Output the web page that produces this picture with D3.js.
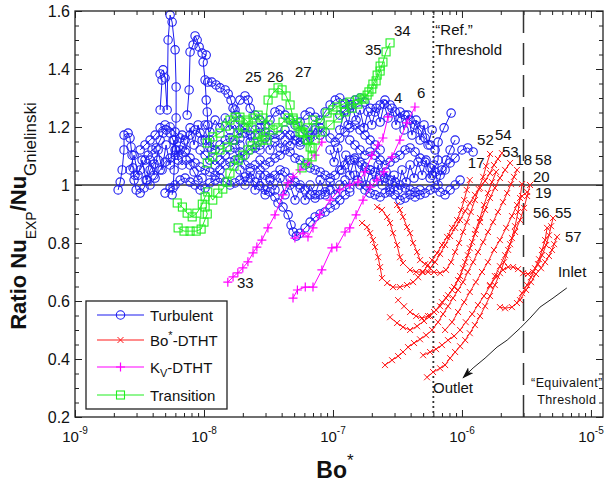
<!DOCTYPE html>
<html>
<head>
<meta charset="utf-8">
<script src="https://cdn.jsdelivr.net/npm/d3@7"></script>
<style>
  body { margin: 0; background: #fff; }
  text { font-family: Arial, "Liberation Sans", sans-serif; fill: #111; }
</style>
</head>
<body>
<svg id="chart" width="605" height="483"></svg>
<script>
// ---- data: [Bo*, Nu_EXP/Nu_Gnielinski] ----
const turbulentRuns = [
  [[2.16e-9,0.983],[2.24e-9,1.01],[2.32e-9,1.052],[2.4e-9,1.121],[2.4e-9,1.172],[2.58e-9,1.179],[2.67e-9,1.162],[2.72e-9,1.131],[2.77e-9,1.103],[2.82e-9,1.059],[2.87e-9,1.017],[2.98e-9,0.983],[3.2e-9,0.972],[3.43e-9,0.99],[3.62e-9,1.017],[3.82e-9,1.052],[4.1e-9,1.072],[4.41e-9,1.086]],
  [[2.92e-9,1.034],[3.2e-9,1.052],[3.49e-9,1.086],[3.69e-9,1.103],[3.96e-9,1.121],[4.25e-9,1.128],[4.57e-9,1.155],[4.82e-9,1.179],[5.08e-9,1.19],[5.46e-9,1.179],[5.76e-9,1.155],[6.08e-9,1.121],[6.3e-9,1.086],[6.77e-9,1.069],[7.27e-9,1.086],[7.8e-9,1.069],[8.38e-9,1.045],[9.0e-9,1.017],[9.67e-9,1.024]],
  [[4.57e-9,1.259],[4.73e-9,1.362],[4.57e-9,1.383],[4.82e-9,1.397],[4.99e-9,1.369],[5.18e-9,1.259],[5.27e-9,1.5],[5.46e-9,1.586],[5.66e-9,1.562],[5.97e-9,1.466],[6.08e-9,1.338],[6.08e-9,1.231],[5.97e-9,1.121],[5.87e-9,1.052],[5.76e-9,0.99],[5.66e-9,0.966]],
  [[7.4e-9,1.241],[7.67e-9,1.328],[7.8e-9,1.459],[8.24e-9,1.483],[8.53e-9,1.514],[8.85e-9,1.5],[9.17e-9,1.476],[9.67e-9,1.455],[1.04e-8,1.448],[9.85e-9,1.424],[1.02e-8,1.362],[1.04e-8,1.293],[1.06e-8,1.252],[1.07e-8,1.207],[1.11e-8,1.155],[1.15e-8,1.121]],
  [[1.07e-8,1.355],[1.15e-8,1.355],[1.24e-8,1.345],[1.33e-8,1.335],[1.46e-8,1.328],[1.54e-8,1.314],[1.62e-8,1.293],[1.68e-8,1.265],[1.77e-8,1.241],[1.9e-8,1.224]],
  [[3.2e-9,1.121],[3.49e-9,1.138],[3.82e-9,1.155],[4.18e-9,1.172],[4.57e-9,1.197],[4.99e-9,1.207],[5.46e-9,1.2],[5.97e-9,1.183],[6.53e-9,1.162],[7.14e-9,1.155],[7.8e-9,1.172],[8.53e-9,1.19],[9.33e-9,1.179],[1.02e-8,1.155],[1.11e-8,1.131],[1.22e-8,1.121],[1.33e-8,1.138],[1.46e-8,1.155],[1.59e-8,1.162],[1.74e-8,1.155],[1.9e-8,1.138]],
  [[3.82e-9,1.0],[4.18e-9,1.024],[4.57e-9,1.052],[4.99e-9,1.079],[5.46e-9,1.093],[5.97e-9,1.103],[6.53e-9,1.121],[7.14e-9,1.114],[7.8e-9,1.093],[8.53e-9,1.076],[9.33e-9,1.062],[1.02e-8,1.052],[1.11e-8,1.045],[1.22e-8,1.034],[1.33e-8,1.052],[1.46e-8,1.069],[1.59e-8,1.079],[1.74e-8,1.086],[1.9e-8,1.093],[2.08e-8,1.103],[2.28e-8,1.121],[2.49e-8,1.128],[2.72e-8,1.121]],
  [[4.99e-9,0.972],[5.46e-9,0.99],[5.97e-9,1.0],[6.53e-9,1.017],[7.14e-9,1.024],[7.8e-9,1.01],[8.53e-9,1.0],[9.33e-9,0.983],[1.02e-8,0.99],[1.11e-8,1.007],[1.22e-8,1.017],[1.33e-8,1.024],[1.46e-8,1.01],[1.59e-8,1.0],[1.74e-8,1.007],[1.9e-8,1.017],[2.08e-8,1.028],[2.28e-8,1.024],[2.49e-8,1.01],[2.72e-8,0.997],[2.98e-8,0.983],[3.25e-8,0.976],[3.55e-8,0.959],[3.75e-8,0.938],[4.1e-8,0.924],[4.49e-8,0.897],[4.73e-8,0.862],[4.91e-8,0.838],[5.2e-8,0.824],[5.56e-8,0.834],[6.08e-8,0.852],[6.65e-8,0.872],[7.27e-8,0.89],[7.95e-8,0.9],[8.69e-8,0.907],[9.5e-8,0.921],[1.04e-7,0.931],[1.13e-7,0.948],[1.24e-7,0.966],[1.35e-7,0.976]],
  [[1.74e-8,1.259],[1.9e-8,1.293],[2.08e-8,1.307],[2.2e-8,1.293],[2.28e-8,1.265],[2.49e-8,1.241],[2.72e-8,1.224],[2.98e-8,1.207],[3.25e-8,1.224],[3.55e-8,1.252],[3.89e-8,1.259],[4.25e-8,1.241],[4.65e-8,1.224],[5.08e-8,1.207],[5.56e-8,1.217],[6.08e-8,1.241],[6.65e-8,1.252],[7.27e-8,1.234],[7.95e-8,1.224],[8.69e-8,1.252],[9.5e-8,1.276],[1.04e-7,1.293],[1.13e-7,1.3],[1.24e-7,1.283],[1.35e-7,1.265]],
  [[1.9e-8,1.19],[2.08e-8,1.179],[2.28e-8,1.172],[2.49e-8,1.19],[2.72e-8,1.197],[2.98e-8,1.183],[3.25e-8,1.172],[3.55e-8,1.162],[3.89e-8,1.172],[4.25e-8,1.19],[4.65e-8,1.172],[5.08e-8,1.155],[5.56e-8,1.138],[6.08e-8,1.155],[6.65e-8,1.172],[7.27e-8,1.19],[7.95e-8,1.197],[8.69e-8,1.183],[9.5e-8,1.162],[1.04e-7,1.148],[1.13e-7,1.162],[1.24e-7,1.183],[1.35e-7,1.197],[1.48e-7,1.207],[1.62e-7,1.19],[1.77e-7,1.172],[1.94e-7,1.155],[2.12e-7,1.138],[2.32e-7,1.121]],
  [[2.72e-8,1.086],[2.98e-8,1.069],[3.25e-8,1.079],[3.55e-8,1.093],[3.89e-8,1.103],[4.25e-8,1.121],[4.65e-8,1.114],[5.08e-8,1.093],[5.56e-8,1.086],[6.08e-8,1.069],[6.65e-8,1.059],[7.27e-8,1.052],[7.95e-8,1.045],[8.69e-8,1.034],[9.5e-8,1.024],[1.04e-7,1.034],[1.13e-7,1.052],[1.24e-7,1.069],[1.35e-7,1.086],[1.48e-7,1.093],[1.62e-7,1.079],[1.77e-7,1.062],[1.94e-7,1.052],[2.12e-7,1.045],[2.32e-7,1.034],[2.53e-7,1.024],[2.77e-7,1.017],[3.03e-7,1.01],[3.31e-7,1.0],[3.62e-7,0.99],[3.96e-7,0.983],[4.33e-7,0.976],[4.73e-7,0.983]],
  [[1.13e-7,1.241],[1.24e-7,1.259],[1.35e-7,1.276],[1.48e-7,1.293],[1.62e-7,1.3],[1.77e-7,1.286],[1.94e-7,1.265],[2.12e-7,1.252],[2.32e-7,1.276],[2.53e-7,1.293],[2.77e-7,1.276],[3.03e-7,1.252],[3.31e-7,1.231],[3.62e-7,1.241],[3.96e-7,1.224],[4.33e-7,1.207],[4.73e-7,1.19],[5.18e-7,1.162],[5.66e-7,1.138],[6.19e-7,1.121]],
  [[1.35e-7,1.155],[1.48e-7,1.138],[1.62e-7,1.121],[1.77e-7,1.103],[1.94e-7,1.114],[2.12e-7,1.103],[2.32e-7,1.086],[2.53e-7,1.069],[2.77e-7,1.079],[3.03e-7,1.093],[3.31e-7,1.103],[3.62e-7,1.121],[3.96e-7,1.128],[4.33e-7,1.114],[4.73e-7,1.093],[5.18e-7,1.079],[5.66e-7,1.059],[6.19e-7,1.045],[6.77e-7,1.034],[7.4e-7,1.052],[8.09e-7,1.076],[8.85e-7,1.093],[1.0e-6,1.121],[1.11e-6,1.128],[1.22e-6,1.114]],
  [[5.87e-7,1.034],[6.53e-7,1.086],[6.53e-7,1.148],[7.27e-7,1.197],[8.24e-7,1.248]],
  [[1.62e-7,1.0],[1.77e-7,0.983],[1.94e-7,0.972],[2.12e-7,0.966],[2.32e-7,0.959],[2.53e-7,0.972],[2.77e-7,0.983],[3.03e-7,0.966],[3.31e-7,0.948],[3.62e-7,0.955],[3.96e-7,0.966],[4.33e-7,0.959],[4.73e-7,0.966],[5.18e-7,0.972],[5.66e-7,0.983],[6.19e-7,0.99],[6.77e-7,0.976],[7.4e-7,0.966],[8.09e-7,0.983],[8.85e-7,1.0],[9.67e-7,1.017]],
  [[9.33e-9,1.121],[1.02e-8,1.103],[1.11e-8,1.086],[1.22e-8,1.069],[1.33e-8,1.086],[1.46e-8,1.103],[1.59e-8,1.121],[1.74e-8,1.128],[1.9e-8,1.114],[2.08e-8,1.069],[2.28e-8,1.059],[2.49e-8,1.069],[2.72e-8,1.052],[2.98e-8,1.034],[3.25e-8,1.024],[3.55e-8,1.034],[3.89e-8,1.052],[4.25e-8,1.045],[4.65e-8,1.024],[5.08e-8,1.01],[5.56e-8,1.0],[6.08e-8,0.983],[6.65e-8,0.966],[7.27e-8,0.955],[7.95e-8,0.966],[8.69e-8,0.976],[9.5e-8,0.983]],
  [[1.02e-8,1.207],[1.11e-8,1.183],[1.22e-8,1.224],[1.33e-8,1.197],[1.46e-8,1.231],[1.59e-8,1.19],[1.74e-8,1.207],[1.9e-8,1.162],[2.08e-8,1.197],[2.28e-8,1.148],[2.49e-8,1.172],[2.72e-8,1.138],[2.98e-8,1.162],[3.25e-8,1.121],[3.55e-8,1.148],[3.89e-8,1.128],[4.25e-8,1.155],[4.65e-8,1.135],[5.08e-8,1.169],[5.56e-8,1.148],[6.08e-8,1.19],[6.65e-8,1.162],[7.27e-8,1.197],[7.95e-8,1.172]],
  [[9.5e-8,1.121],[1.02e-7,1.079],[1.09e-7,1.128],[1.17e-7,1.052],[1.26e-7,1.103],[1.35e-7,1.034],[1.46e-7,1.086],[1.56e-7,1.017],[1.68e-7,1.069],[1.8e-7,1.0],[1.94e-7,1.052],[2.08e-7,1.01],[2.24e-7,1.069],[2.4e-7,1.0],[2.58e-7,1.045],[2.77e-7,0.976],[2.98e-7,1.034],[3.2e-7,0.983],[3.43e-7,1.052],[3.69e-7,1.01],[3.96e-7,1.069],[4.25e-7,1.024],[4.57e-7,1.079],[4.91e-7,1.034],[5.27e-7,1.086],[5.66e-7,1.024],[6.08e-7,1.069],[6.53e-7,1.0],[7.0e-7,1.052],[7.53e-7,1.086],[8.09e-7,1.121],[8.85e-7,1.155]],
  [[1.13e-7,1.19],[1.22e-7,1.252],[1.31e-7,1.207],[1.4e-7,1.276],[1.51e-7,1.224],[1.62e-7,1.259],[1.74e-7,1.197],[1.87e-7,1.252],[2.0e-7,1.207],[2.16e-7,1.265],[2.32e-7,1.217],[2.49e-7,1.279],[2.67e-7,1.231],[2.87e-7,1.265],[3.08e-7,1.207],[3.31e-7,1.252],[3.56e-7,1.19],[3.82e-7,1.241],[4.1e-7,1.172],[4.41e-7,1.224],[4.73e-7,1.155],[5.08e-7,1.207],[5.46e-7,1.138],[5.87e-7,1.19]],
  [[1.9e-8,1.052],[2.08e-8,1.0],[2.28e-8,1.045],[2.49e-8,0.983],[2.72e-8,1.034],[2.98e-8,0.966],[3.25e-8,1.017],[3.55e-8,0.983],[3.89e-8,1.024],[4.25e-8,0.966],[4.65e-8,1.0],[5.08e-8,0.948],[5.56e-8,0.99],[6.08e-8,0.948],[6.65e-8,1.0],[7.27e-8,0.966],[7.95e-8,1.017],[8.69e-8,0.966],[9.5e-8,1.01],[1.04e-7,0.966],[1.13e-7,1.0],[1.24e-7,1.017],[1.35e-7,0.99],[1.48e-7,1.034]],
  [[2.67e-9,1.052],[2.87e-9,1.103],[3.08e-9,1.034],[3.31e-9,1.086],[3.56e-9,1.017],[3.82e-9,1.086],[4.1e-9,1.034],[4.41e-9,1.121],[4.73e-9,1.052],[5.08e-9,1.138],[5.46e-9,1.069],[5.87e-9,1.155],[6.3e-9,1.103],[6.77e-9,1.172],[7.27e-9,1.121],[7.8e-9,1.197],[8.38e-9,1.138],[9.0e-9,1.207],[9.67e-9,1.155]]
];

const bodthtRuns = [
  [[1.68e-7,0.869],[1.84e-7,0.855],[1.94e-7,0.834],[2.04e-7,0.81],[2.12e-7,0.786],[2.24e-7,0.751],[2.32e-7,0.717],[2.4e-7,0.679],[2.63e-7,0.662],[2.92e-7,0.648],[3.31e-7,0.648],[3.75e-7,0.655],[4.18e-7,0.665],[4.57e-7,0.682],[5.0e-7,0.7],[5.46e-7,0.724],[5.87e-7,0.741],[6.41e-7,0.765],[7.0e-7,0.793],[7.67e-7,0.821],[8.38e-7,0.852],[9.17e-7,0.879],[9.85e-7,0.914],[1.04e-6,0.948],[1.09e-6,0.983],[1.15e-6,1.017]],
  [[2.2e-7,0.924],[2.4e-7,0.914],[2.63e-7,0.89],[2.77e-7,0.869],[2.92e-7,0.834],[3.14e-7,0.793],[3.31e-7,0.751],[3.49e-7,0.731],[3.96e-7,0.707],[4.41e-7,0.7],[4.91e-7,0.7],[5.46e-7,0.7],[6.08e-7,0.7],[6.77e-7,0.696],[7.53e-7,0.707],[8.24e-7,0.734],[8.85e-7,0.769],[9.5e-7,0.8],[1.02e-6,0.838],[1.09e-6,0.872],[1.17e-6,0.907],[1.26e-6,0.948],[1.35e-6,0.986],[1.46e-6,1.028],[1.54e-6,1.065],[1.65e-6,1.107]],
  [[3.14e-7,0.931],[3.31e-7,0.914],[3.49e-7,0.89],[3.75e-7,0.855],[3.96e-7,0.834],[4.18e-7,0.8],[4.49e-7,0.769],[4.73e-7,0.741],[5.18e-7,0.727],[5.66e-7,0.713],[6.19e-7,0.734],[6.77e-7,0.762],[7.4e-7,0.793],[8.09e-7,0.824],[8.85e-7,0.852],[9.67e-7,0.879],[1.06e-6,0.91],[1.15e-6,0.938],[1.26e-6,0.966],[1.38e-6,0.99],[1.51e-6,1.014],[1.65e-6,1.041],[1.77e-6,1.069],[1.9e-6,1.09],[2.04e-6,1.11]],
  [[2.77e-7,0.544],[3.14e-7,0.524],[3.49e-7,0.51],[3.96e-7,0.5],[4.49e-7,0.513],[5.08e-7,0.531],[5.66e-7,0.548],[6.3e-7,0.569],[7.0e-7,0.596],[7.8e-7,0.62],[8.69e-7,0.648],[9.67e-7,0.686],[1.06e-6,0.734],[1.15e-6,0.782],[1.26e-6,0.831],[1.38e-6,0.872],[1.51e-6,0.914],[1.65e-6,0.955],[1.8e-6,0.99],[1.97e-6,1.024],[2.16e-6,1.052],[2.36e-6,1.076]],
  [[2.53e-7,0.379],[2.87e-7,0.396],[3.2e-7,0.41],[3.49e-7,0.424],[3.82e-7,0.441],[4.25e-7,0.455],[4.73e-7,0.468],[5.27e-7,0.482],[5.87e-7,0.5],[6.53e-7,0.527],[7.14e-7,0.555],[7.8e-7,0.582],[8.53e-7,0.61],[9.33e-7,0.638],[1.02e-6,0.665],[1.11e-6,0.7],[1.22e-6,0.734],[1.33e-6,0.769],[1.46e-6,0.803],[1.59e-6,0.838],[1.74e-6,0.872],[1.9e-6,0.907],[2.08e-6,0.941],[2.24e-6,0.972],[2.4e-6,1.003],[2.53e-6,1.028],[2.67e-6,1.052]],
  [[5.36e-7,0.337],[5.97e-7,0.355],[6.77e-7,0.368],[7.4e-7,0.379],[8.09e-7,0.403],[8.85e-7,0.424],[9.67e-7,0.444],[1.06e-6,0.465],[1.15e-6,0.489],[1.26e-6,0.517],[1.38e-6,0.548],[1.51e-6,0.582],[1.65e-6,0.617],[1.8e-6,0.655],[1.97e-6,0.696],[2.12e-6,0.734],[2.28e-6,0.776],[2.44e-6,0.817],[2.58e-6,0.858],[2.72e-6,0.907],[2.82e-6,0.955],[2.92e-6,1.003]],
  [[5.0e-7,0.413],[5.66e-7,0.424],[6.3e-7,0.434],[7.0e-7,0.448],[7.8e-7,0.465],[8.69e-7,0.479],[9.67e-7,0.5],[1.07e-6,0.527],[1.2e-6,0.555],[1.33e-6,0.586],[1.48e-6,0.617],[1.65e-6,0.651],[1.8e-6,0.686],[1.97e-6,0.72],[2.16e-6,0.758],[2.36e-6,0.796],[2.58e-6,0.838],[2.82e-6,0.879],[3.03e-6,0.921],[3.2e-6,0.962],[3.37e-6,1.0]],
  [[7.4e-7,0.5],[8.38e-7,0.527],[9.33e-7,0.562],[1.04e-6,0.596],[1.15e-6,0.631],[1.28e-6,0.665],[1.43e-6,0.7],[1.59e-6,0.734],[1.77e-6,0.776],[1.97e-6,0.81],[2.2e-6,0.852],[2.44e-6,0.893],[2.67e-6,0.931],[2.92e-6,0.962],[3.2e-6,0.976]],
  [[1.97e-6,0.579],[2.16e-6,0.575],[2.44e-6,0.579],[2.67e-6,0.593],[2.92e-6,0.627],[3.2e-6,0.655],[3.43e-6,0.682],[3.69e-6,0.713],[3.96e-6,0.744],[4.18e-6,0.776],[4.41e-6,0.81],[4.57e-6,0.852]],
  [[1.65e-6,0.655],[1.87e-6,0.686],[2.08e-6,0.707],[2.28e-6,0.717],[2.49e-6,0.717],[2.72e-6,0.71],[2.98e-6,0.696],[3.25e-6,0.693],[3.56e-6,0.7],[3.89e-6,0.727],[4.18e-6,0.758],[4.49e-6,0.793],[4.73e-6,0.827],[4.91e-6,0.858],[5.08e-6,0.886]],
  [[2.82e-6,0.603],[3.14e-6,0.638],[3.43e-6,0.665],[3.75e-6,0.693],[4.1e-6,0.713],[4.41e-6,0.734],[4.73e-6,0.755],[4.99e-6,0.776],[5.18e-6,0.796],[5.46e-6,0.821]],
  [[3.2e-7,0.603],[3.56e-7,0.582],[3.96e-7,0.562],[4.41e-7,0.548],[4.91e-7,0.541],[5.46e-7,0.548],[6.08e-7,0.562],[6.77e-7,0.582],[7.53e-7,0.61],[8.38e-7,0.638],[9.33e-7,0.672],[1.02e-6,0.713],[1.11e-6,0.758],[1.2e-6,0.803],[1.28e-6,0.845],[1.38e-6,0.886],[1.48e-6,0.931],[1.59e-6,0.972],[1.71e-6,1.01],[1.84e-6,1.045]]
];

const kvRuns = [
  [[1.53e-8,0.665],[1.68e-8,0.683],[1.83e-8,0.697],[2.0e-8,0.714],[2.19e-8,0.735],[2.4e-8,0.766],[2.57e-8,0.786],[2.81e-8,0.81],[3.13e-8,0.852],[3.55e-8,0.897],[4.1e-8,0.966],[4.48e-8,1.007],[4.9e-8,1.028],[5.55e-8,1.052],[6.4e-8,1.076],[7.25e-8,1.103],[8.2e-8,1.148]],
  [[5.07e-8,0.817],[5.85e-8,0.834],[6.4e-8,0.821],[7.0e-8,0.852],[7.9e-8,0.897],[9.5e-8,0.948],[1.13e-7,0.983],[1.35e-7,1.0],[1.56e-7,1.01],[1.77e-7,1.045],[2.0e-7,1.103],[2.23e-7,1.138],[2.44e-7,1.162],[2.67e-7,1.235]],
  [[4.9e-8,0.61],[5.3e-8,0.638],[6.1e-8,0.648],[7.0e-8,0.648],[8.2e-8,0.707],[9.8e-8,0.783],[1.07e-7,0.786],[1.24e-7,0.838],[1.35e-7,0.852],[1.51e-7,0.897],[1.71e-7,0.948],[1.94e-7,0.993],[2.19e-7,1.017],[2.48e-7,1.045],[2.87e-7,1.097],[3.3e-7,1.155],[3.74e-7,1.214],[4.32e-7,1.269]]
];

const transitionRuns = [
  [[6.3e-9,0.852],[7.0e-9,0.841],[7.8e-9,0.841],[8.7e-9,0.841],[9.5e-9,0.848],[1.0e-8,0.872],[1.06e-8,0.9],[1.02e-8,0.924]],
  [[6.2e-9,0.938],[6.8e-9,0.924],[7.4e-9,0.903],[8.1e-9,0.89],[8.8e-9,0.903],[9.7e-9,0.934],[1.02e-8,0.959],[1.07e-8,0.976],[1.17e-8,0.948],[1.28e-8,0.972],[1.4e-8,0.986],[1.51e-8,1.01],[1.59e-8,1.041],[1.71e-8,1.065],[1.84e-8,1.086],[2.0e-8,1.103],[2.2e-8,1.121],[2.36e-8,1.135],[2.58e-8,1.148],[2.82e-8,1.155],[3.08e-8,1.155]],
  [[1.06e-8,1.076],[1.17e-8,1.097],[1.33e-8,1.121],[1.51e-8,1.131],[1.68e-8,1.155],[1.84e-8,1.179],[2.0e-8,1.2],[2.2e-8,1.217],[2.4e-8,1.231],[2.63e-8,1.241],[2.87e-8,1.231],[3.14e-8,1.207],[3.43e-8,1.19],[3.75e-8,1.197],[4.1e-8,1.217],[4.49e-8,1.231],[4.91e-8,1.224],[5.36e-8,1.203],[5.87e-8,1.179],[6.41e-8,1.155],[6.89e-8,1.128]],
  [[1.06e-8,1.145],[1.17e-8,1.166],[1.33e-8,1.179],[1.48e-8,1.203],[1.59e-8,1.224],[1.74e-8,1.234],[1.9e-8,1.234],[2.12e-8,1.224],[2.36e-8,1.197],[2.63e-8,1.176],[2.92e-8,1.166],[3.14e-8,1.293],[3.43e-8,1.317],[3.75e-8,1.335],[4.03e-8,1.328],[4.33e-8,1.307],[4.65e-8,1.276],[4.91e-8,1.231],[5.27e-8,1.214],[5.76e-8,1.183],[6.3e-8,1.155],[6.65e-8,1.131],[6.89e-8,1.097],[6.3e-8,1.076],[5.76e-8,1.059]],
  [[5.56e-8,1.183],[6.41e-8,1.197],[7.0e-8,1.224],[7.95e-8,1.214],[9.0e-8,1.248],[1.0e-7,1.259],[1.07e-7,1.269],[1.2e-7,1.279],[1.35e-7,1.286],[1.54e-7,1.293],[1.68e-7,1.3],[1.84e-7,1.31],[2.0e-7,1.331],[2.16e-7,1.359],[2.32e-7,1.393],[2.44e-7,1.424],[2.58e-7,1.459],[2.77e-7,1.49]],
  [[7.27e-8,1.155],[8.24e-8,1.183],[9.5e-8,1.207],[1.09e-7,1.231],[1.24e-7,1.252],[1.4e-7,1.265],[1.56e-7,1.279],[1.74e-7,1.296],[1.9e-7,1.321],[2.04e-7,1.348],[2.2e-7,1.379],[2.32e-7,1.41]]
];

// run numbers written next to run ends: [label, Bo*, ratio]
const runLabels = [
  ["25", 2.08e-8, 1.355], ["26", 3.08e-8, 1.355], ["27", 5.07e-8, 1.372],
  ["35", 1.77e-7, 1.448], ["34", 2.97e-7, 1.514], ["4", 2.97e-7, 1.283], ["6", 4.48e-7, 1.30],
  ["52", 1.31e-6, 1.138], ["54", 1.8e-6, 1.155], ["17", 1.11e-6, 1.059], ["53", 2.04e-6, 1.097],
  ["18", 2.6e-6, 1.069], ["58", 3.69e-6, 1.069], ["20", 3.55e-6, 1.01], ["19", 3.68e-6, 0.955],
  ["56", 3.55e-6, 0.886], ["55", 5.26e-6, 0.886], ["57", 6.29e-6, 0.803], ["33", 1.8e-8, 0.645]
];

const refThreshold = 6e-7;
const equivThreshold = 3e-6;
const arrowPath = [[6.5e-6,0.645],[5.08e-6,0.61],[4.03e-6,0.579],[3.37e-6,0.541],[2.82e-6,0.506],[2.24e-6,0.465],[1.87e-6,0.441],[1.51e-6,0.403],[1.22e-6,0.369],[1.02e-6,0.335]];

const xDecades = [1e-9, 1e-8, 1e-7, 1e-6, 1e-5];
const xExponents = ["-9", "-8", "-7", "-6", "-5"];
const yTickValues = [0.2, 0.4, 0.6, 0.8, 1.0, 1.2, 1.4, 1.6];
const yTickLabels = ["0.2", "0.4", "0.6", "0.8", "1", "1.2", "1.4", "1.6"];

// ---- layout ----
const svg = d3.select("#chart");
const plotL = 75, plotR = 603, plotT = 11, plotB = 417;

const x = d3.scaleLog().domain([1e-9, 1.24e-5]).range([plotL, plotR]);
const y = d3.scaleLinear().domain([0.2, 1.6]).range([plotB, plotT]);

const xMinor = [];
xDecades.slice(0, 4).forEach(d => { for (let k = 2; k <= 9; k++) xMinor.push(d * k); });
const yMinor = d3.range(0.2, 1.6001, 0.05);

const BLUE = "#1c1cf0", RED = "#ff1a1a", MAGENTA = "#ff00ff", GREEN = "#22ee22";

const axes = svg.append("g").attr("class", "axes");
function addAxis(axisFn, scale, values, size, transform) {
  axes.append("g")
    .attr("transform", transform)
    .call(axisFn(scale).tickValues(values).tickSize(size).tickSizeOuter(0).tickFormat(""))
    .call(g => g.select(".domain").remove())
    .call(g => g.selectAll("line").attr("stroke", "#222"));
}
addAxis(d3.axisBottom, x, xDecades, -7, `translate(0,${plotB})`);
addAxis(d3.axisBottom, x, xMinor, -4, `translate(0,${plotB})`);
addAxis(d3.axisTop, x, xDecades, -7, `translate(0,${plotT})`);
addAxis(d3.axisTop, x, xMinor, -4, `translate(0,${plotT})`);
addAxis(d3.axisLeft, y, yTickValues, -7, `translate(${plotL},0)`);
addAxis(d3.axisLeft, y, yMinor, -4, `translate(${plotL},0)`);
addAxis(d3.axisRight, y, yTickValues, -7, `translate(${plotR},0)`);
addAxis(d3.axisRight, y, yMinor, -4, `translate(${plotR},0)`);

// y tick labels
svg.append("g").selectAll("text").data(yTickValues).join("text")
  .attr("x", plotL - 5).attr("y", d => y(d)).attr("dy", "0.36em")
  .attr("text-anchor", "end").attr("font-size", 16)
  .text((d, i) => yTickLabels[i]);

// x tick labels 10^n
const xl = svg.append("g").selectAll("text").data(xDecades).join("text")
  .attr("x", d => x(d)).attr("y", plotB + 25)
  .attr("text-anchor", "middle").attr("font-size", 15);
xl.append("tspan").text("10");
xl.append("tspan").attr("font-size", 10).attr("dy", -8).text((d, i) => xExponents[i]);

// reference lines
const plot = svg.append("g");
plot.append("line")
  .attr("x1", plotL).attr("x2", plotR).attr("y1", y(1)).attr("y2", y(1))
  .attr("stroke", "#333").attr("stroke-width", 1.5);
plot.append("line")
  .attr("x1", x(refThreshold)).attr("x2", x(refThreshold)).attr("y1", plotT).attr("y2", plotB)
  .attr("stroke", "#333").attr("stroke-width", 1.8).attr("stroke-dasharray", "2,3");
plot.append("line")
  .attr("x1", x(equivThreshold)).attr("x2", x(equivThreshold)).attr("y1", plotT).attr("y2", plotB)
  .attr("stroke", "#333").attr("stroke-width", 1.5).attr("stroke-dasharray", "22,10");

const line = d3.line().x(d => x(d[0])).y(d => y(d[1]));

function drawSeries(runs, color, marker) {
  const g = plot.append("g");
  runs.forEach(run => {
    g.append("path").attr("d", line(run)).attr("fill", "none")
      .attr("stroke", color).attr("stroke-width", 1);
    const m = g.append("g").selectAll("g").data(run).join("g")
      .attr("transform", d => `translate(${x(d[0])},${y(d[1])})`);
    marker(m, color);
  });
}
const circleMarker = (s, c) => s.append("circle").attr("r", 4.2).attr("fill", "none").attr("stroke", c).attr("stroke-width", 1.1);
const xMarker = (s, c) => s.append("path").attr("d", "M-3,-3L3,3M-3,3L3,-3").attr("stroke", c).attr("stroke-width", 1);
const plusMarker = (s, c) => s.append("path").attr("d", "M-4.5,0H4.5M0,-4.5V4.5").attr("stroke", c).attr("stroke-width", 1.2);
const squareMarker = (s, c) => s.append("rect").attr("x", -4).attr("y", -4).attr("width", 8).attr("height", 8).attr("fill", "none").attr("stroke", c).attr("stroke-width", 1.1);

drawSeries(turbulentRuns, BLUE, circleMarker);
drawSeries(bodthtRuns, RED, xMarker);
drawSeries(kvRuns, MAGENTA, plusMarker);
drawSeries(transitionRuns, GREEN, squareMarker);

// frame
svg.append("rect").attr("x", plotL).attr("y", plotT).attr("width", plotR - plotL).attr("height", plotB - plotT)
  .attr("fill", "none").attr("stroke", "#222").attr("stroke-width", 1.3);

// run numbers
svg.append("g").selectAll("text").data(runLabels).join("text")
  .attr("x", d => x(d[1])).attr("y", d => y(d[2]))
  .attr("font-size", 15).attr("fill", "#222").text(d => d[0]);

// threshold annotations
const refX = x(refThreshold) + 2;
svg.append("text").attr("x", refX).attr("y", y(1.517)).attr("font-size", 15).text("\u201CRef.\u201D");
svg.append("text").attr("x", refX).attr("y", y(1.448)).attr("font-size", 15).text("Threshold");
svg.append("text").attr("x", x(6.5e-6)).attr("y", y(0.304)).attr("font-size", 12.5)
  .attr("text-anchor", "middle").attr("letter-spacing", 0.4).text("\u201CEquivalent\u201D");
svg.append("text").attr("x", x(6.5e-6)).attr("y", y(0.245)).attr("font-size", 12.5)
  .attr("text-anchor", "middle").attr("letter-spacing", 0.4).text("Threshold");
svg.append("text").attr("x", x(5.55e-6)).attr("y", y(0.683)).attr("font-size", 15).text("Inlet");
svg.append("text").attr("x", x(5.96e-7)).attr("y", y(0.283)).attr("font-size", 15).text("Outlet");

// arrow from Inlet to Outlet
svg.append("defs").append("marker")
  .attr("id", "arrowhead").attr("viewBox", "0 0 12 8").attr("refX", 11).attr("refY", 4)
  .attr("markerWidth", 12).attr("markerHeight", 8).attr("markerUnits", "userSpaceOnUse")
  .attr("orient", "auto")
  .append("path").attr("d", "M0,0L12,4L0,8L3,4Z").attr("fill", "#111");
svg.append("path").attr("d", line(arrowPath)).attr("fill", "none")
  .attr("stroke", "#222").attr("stroke-width", 1).attr("marker-end", "url(#arrowhead)");

// axis titles
const yTitle = svg.append("text")
  .attr("transform", `translate(26,${(plotT + plotB) / 2 + 2}) rotate(-90)`)
  .attr("text-anchor", "middle");
yTitle.append("tspan").attr("font-weight", "bold").attr("font-size", 22).text("Ratio Nu");
yTitle.append("tspan").attr("font-size", 14).attr("dy", 10).text("EXP");
yTitle.append("tspan").attr("font-weight", "bold").attr("font-size", 22).attr("dy", -10).text("/Nu");
yTitle.append("tspan").attr("font-size", 17).attr("dy", 10).text("Gnielinski");

const xTitle = svg.append("text").attr("x", (plotL + plotR) / 2 - 4).attr("y", 478)
  .attr("text-anchor", "middle");
xTitle.append("tspan").attr("font-weight", "bold").attr("font-size", 23).text("Bo");
xTitle.append("tspan").attr("font-size", 17).attr("dy", -12).text("*");

// legend
const legendItems = [
  { name: "Turbulent", color: BLUE, marker: circleMarker },
  { name: "Bo*-DTHT", color: RED, marker: xMarker },
  { name: "Kv-DTHT", color: MAGENTA, marker: plusMarker },
  { name: "Transition", color: GREEN, marker: squareMarker }
];
const legend = svg.append("g");
legend.append("rect").attr("x", 86).attr("y", 301).attr("width", 141).attr("height", 108)
  .attr("fill", "#fff").attr("stroke", "#222").attr("stroke-width", 1.3);
const rowY = [315, 340, 367, 395];
legendItems.forEach((it, i) => {
  const g = legend.append("g").attr("transform", `translate(0,${rowY[i]})`);
  g.append("line").attr("x1", 97).attr("x2", 144).attr("stroke", it.color).attr("stroke-width", 1.2);
  it.marker(g.append("g").attr("transform", "translate(120.5,0)"), it.color);
  const t = g.append("text").attr("x", 150).attr("y", 6).attr("font-size", 15);
  if (it.name === "Bo*-DTHT") {
    t.append("tspan").text("Bo");
    t.append("tspan").attr("font-size", 11).attr("dy", -7).text("*");
    t.append("tspan").attr("dy", 7).text("-DTHT");
  } else if (it.name === "Kv-DTHT") {
    t.append("tspan").text("K");
    t.append("tspan").attr("font-size", 11).attr("dy", 4).text("V");
    t.append("tspan").attr("dy", -4).text("-DTHT");
  } else {
    t.text(it.name);
  }
});
</script>
</body>
</html>
